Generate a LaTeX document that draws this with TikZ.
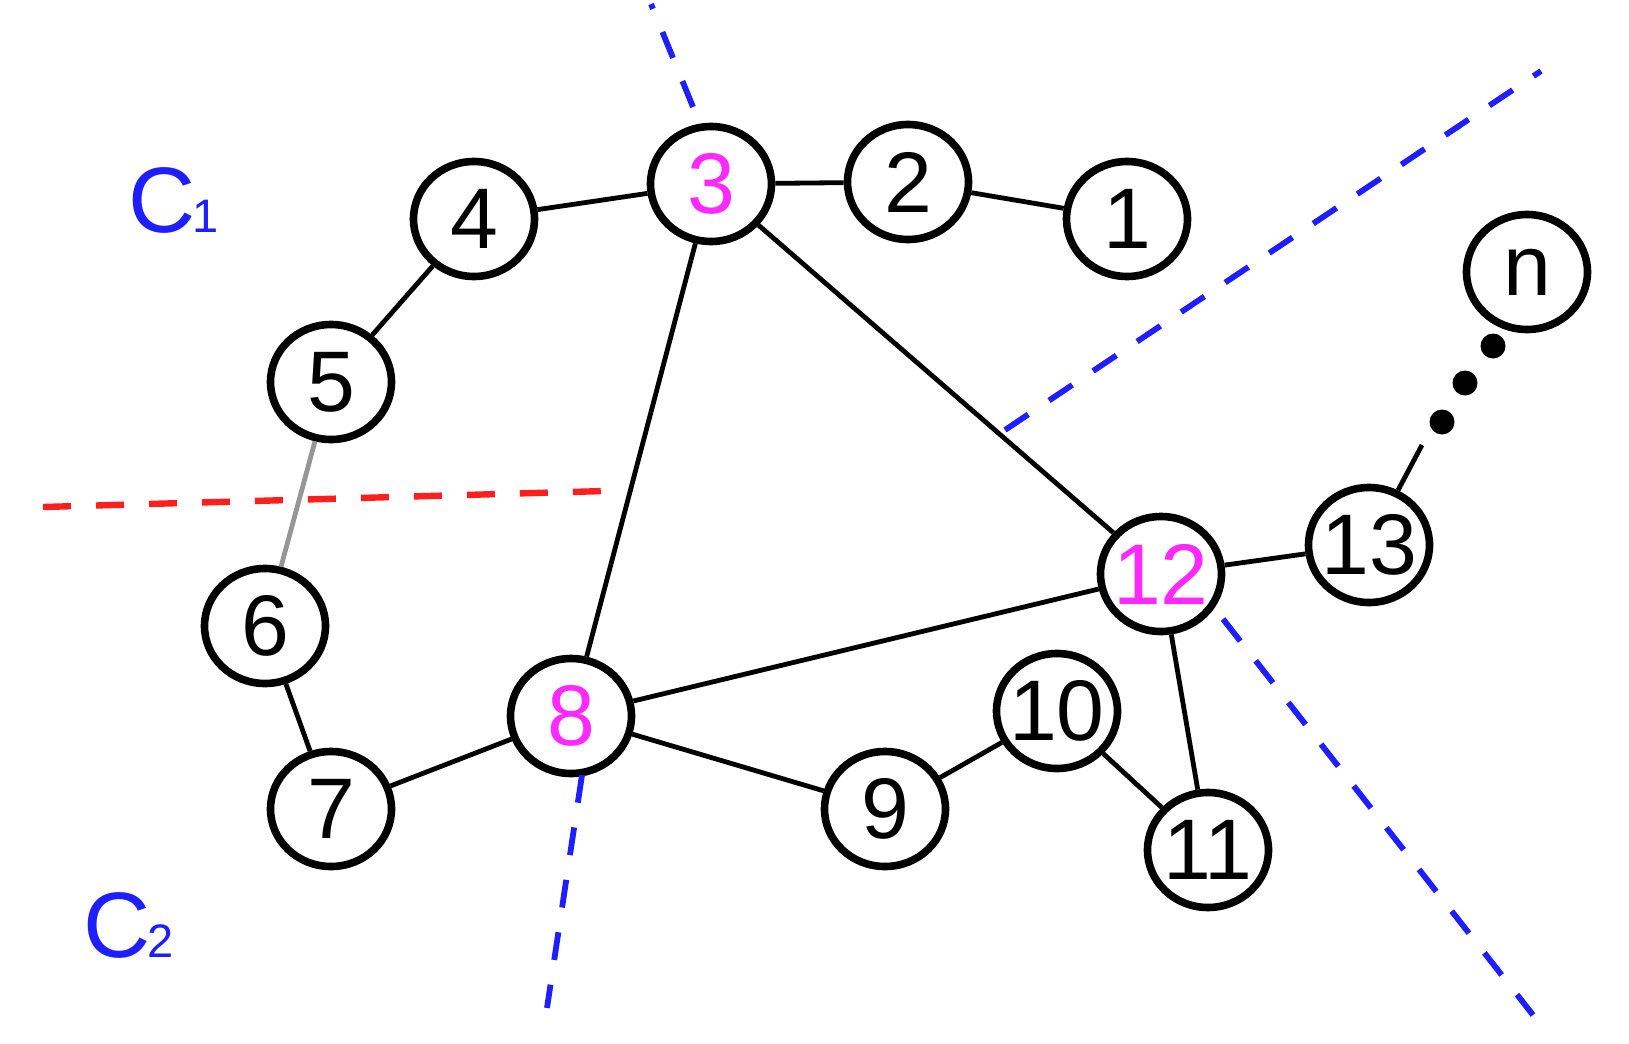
\documentclass[tikz,border=0pt]{standalone}
\usepackage{fontspec}
\setmainfont{Liberation Sans}
\usetikzlibrary{shapes.geometric}
\definecolor{cblue}{RGB}{30,30,255}
\definecolor{cmag}{RGB}{255,40,255}
\definecolor{cred}{RGB}{255,30,30}
\definecolor{cgray}{RGB}{150,150,150}
\begin{document}
\begin{tikzpicture}[x=0.5pt,y=-0.5pt,
  vtx/.style={ellipse,draw,line width=3.8pt,minimum width=60.5pt,minimum height=57.5pt,inner sep=0pt,fill=white,font=\fontsize{43}{43}\selectfont},
  hub/.style={vtx,text=cmag},
  edge/.style={line width=2.4pt,black},
  grayedge/.style={line width=2.4pt,cgray},
  cutblue/.style={line width=2.9pt,cblue,dash pattern=on 14pt off 12.5pt},
  cutred/.style={line width=3.2pt,cred,dash pattern=on 14pt off 12.5pt},
  dotnode/.style={circle,fill=black,inner sep=0pt,minimum size=12.5pt},
  clabel/.style={anchor=base west,inner sep=0pt,text=cblue,font=\fontsize{46.5}{46.5}\selectfont}]
\useasboundingbox (0,0) rectangle (1629,1044);

% vertices
\node[vtx] (v1) at (1127,219) {\makebox[0pt]{1}};
\node[vtx] (v2) at (908,182) {\makebox[0pt]{2}};
\node[hub] (v3) at (711,184) {\makebox[0pt]{3}};
\node[vtx] (v4) at (474,219) {\makebox[0pt]{4}};
\node[vtx] (v5) at (331,382) {\makebox[0pt]{5}};
\node[vtx] (v6) at (265,626) {\makebox[0pt]{6}};
\node[vtx] (v7) at (331,809) {\makebox[0pt]{7}};
\node[hub] (v8) at (571,716) {\makebox[0pt]{8}};
\node[vtx] (v9) at (885,809) {\makebox[0pt]{9}};
\node[vtx] (v10) at (1057,711) {\makebox[0pt]{10}};
\node[vtx] (v11) at (1208,850) {\makebox[0pt]{11}};
\node[hub] (v12) at (1161,574) {\makebox[0pt]{12}};
\node[vtx] (v13) at (1369,545) {\makebox[0pt]{13}};
\node[vtx] (vn) at (1527,272) {\makebox[0pt]{n}};

% dots
\node[dotnode] (dot1) at (1493,346) {};
\node[dotnode] (dot2) at (1465,383) {};
\node[dotnode] (dot3) at (1442,422) {};
\coordinate (d0) at (1422,445);

% edges
\draw[edge] (v1) -- (v2);
\draw[edge] (v2) -- (v3);
\draw[edge] (v3) -- (v4);
\draw[edge] (v4) -- (v5);
\draw[grayedge] (v5) -- (v6);
\draw[edge] (v6) -- (v7);
\draw[edge] (v7) -- (v8);
\draw[edge] (v8) -- (v9);
\draw[edge] (v9) -- (v10);
\draw[edge] (v10) -- (v11);
\draw[edge] (v12) -- (v11);
\draw[edge] (v3) -- (v8);
\draw[edge] (v3) -- (v12);
\draw[edge] (v8) -- (v12);
\draw[edge] (v12) -- (v13);
\draw[edge] (v13) -- (d0);

% cuts
\coordinate (ta) at (693,107); \coordinate (tb) at (651,4);
\draw[cutblue] (ta) -- (tb);
\coordinate (ua) at (1005,430); \coordinate (ub) at (1541,71);
\draw[cutblue] (ua) -- (ub);
\coordinate (ra) at (1223,619); \coordinate (rb) at (1533,1015);
\draw[cutblue] (ra) -- (rb);
\coordinate (ba) at (582,775); \coordinate (bb) at (547,1008);
\draw[cutblue] (ba) -- (bb);
\coordinate (la) at (605,491); \coordinate (lb) at (43,507);
\draw[cutred] (lb) -- (la);

% labels
\node[clabel] (c1) at (128,232) {C\kern-1.5pt{\fontsize{23.5}{23.5}\selectfont 1}};
\node[clabel] (c2) at (83,957) {C\kern-1.5pt{\fontsize{23.5}{23.5}\selectfont 2}};
\end{tikzpicture}
\end{document}
